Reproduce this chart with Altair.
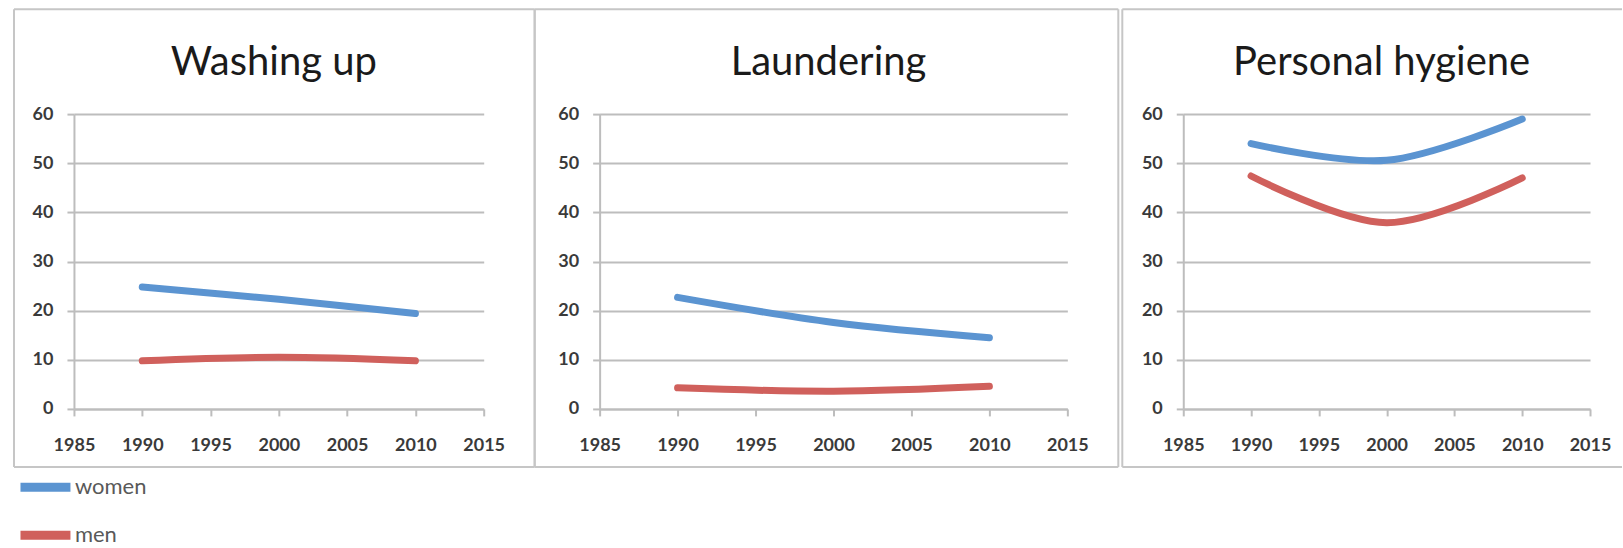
import altair as alt
import pandas as pd

# Minutes per day spent on household / personal care tasks, by sex
years = [1990, 2000, 2010]
series = ["women", "men"]

washing_women = [24.8, 22.3, 19.4]
washing_men = [9.8, 10.5, 9.8]
laundering_women = [22.7, 17.6, 14.5]
laundering_men = [4.3, 3.6, 4.6]
hygiene_women = [54.0, 50.6, 59.0]
hygiene_men = [47.4, 37.9, 47.0]

panels = ["Washing up", "Laundering", "Personal hygiene"]
x_ticks = [1985, 1990, 1995, 2000, 2005, 2010, 2015]
y_ticks = [0, 10, 20, 30, 40, 50, 60]

BLUE = "#5B94D1"
RED = "#D0605C"
GRID = "#bdbdbd"
FRAME = "#c6c6c6"

rows = []
for panel, women, men in [
    ("Washing up", washing_women, washing_men),
    ("Laundering", laundering_women, laundering_men),
    ("Personal hygiene", hygiene_women, hygiene_men),
]:
    for yr, w, m in zip(years, women, men):
        rows.append({"panel": panel, "year": yr, "sex": "women", "value": w})
        rows.append({"panel": panel, "year": yr, "sex": "men", "value": m})
df = pd.DataFrame(rows)

one_row = alt.Data(values=[{"k": 0}])


def frame(left, right, top, bottom, right_side=True):
    """Light border drawn around a panel (pixel offsets from the plot origin)."""
    base = alt.Chart(one_row).mark_rule(color=FRAME, strokeWidth=2)
    parts = [
        base.encode(x=alt.value(left), x2=alt.value(right), y=alt.value(top)),
        base.encode(x=alt.value(left), x2=alt.value(right), y=alt.value(bottom)),
        base.encode(x=alt.value(left), y=alt.value(top), y2=alt.value(bottom)),
    ]
    if right_side:
        parts.append(base.encode(x=alt.value(right), y=alt.value(top), y2=alt.value(bottom)))
    return parts


def panel_title(name, center):
    """Panel heading, set inside the panel border above the plot."""
    return (
        alt.Chart(one_row)
        .mark_text(
            font="Lato",
            fontSize=40,
            color="#1a1a1a",
            align="center",
            baseline="alphabetic",
        )
        .encode(x=alt.value(center), y=alt.value(-39), text=alt.value(name))
    )


def panel_chart(name, width, frame_layers, show_legend=False):
    if show_legend:
        legend = alt.Legend(
            title=None,
            orient="none",
            legendX=-58,
            legendY=344,
            symbolType="stroke",
            symbolSize=2500,
            symbolStrokeWidth=9,
            labelFontSize=22,
            labelFont="Lato",
            labelColor="#595959",
            labelOffset=0,
            rowPadding=-4,
        )
    else:
        legend = None

    lines = (
        alt.Chart(df)
        .transform_filter(alt.datum.panel == name)
        .mark_line(interpolate="catmull-rom", strokeWidth=7, strokeCap="round")
        .encode(
            x=alt.X(
                "year:Q",
                scale=alt.Scale(domain=[1985, 2015], nice=False, zero=False),
                axis=alt.Axis(
                    values=x_ticks,
                    format="d",
                    title=None,
                    grid=False,
                    labelPadding=21,
                    labelFlush=False,
                    labelOverlap=False,
                ),
            ),
            y=alt.Y(
                "value:Q",
                scale=alt.Scale(domain=[0, 60], nice=False),
                axis=alt.Axis(values=y_ticks, title=None, grid=True, labelPadding=14),
            ),
            color=alt.Color(
                "sex:N",
                sort=series,
                scale=alt.Scale(domain=series, range=[BLUE, RED]),
                legend=legend,
            ),
            detail="sex:N",
        )
    )
    return alt.layer(*frame_layers, panel_title(name, width / 2 - 5), lines).properties(
        width=width,
        height=295,
    )


p1 = panel_chart("Washing up", 410, frame(-60, 461, -105, 353), show_legend=True)
p2 = panel_chart("Laundering", 468, frame(-65, 519, -105, 353))
p3 = panel_chart("Personal hygiene", 407, frame(-61, 439, -105, 353, right_side=False))

chart = (
    alt.hconcat(p1, p2, p3, spacing=116, bounds="flush")
    .properties(padding={"left": 13, "top": 8, "right": 0, "bottom": 2}, background="white")
    .configure_view(stroke=None)
    .configure_axis(
        domainColor=GRID,
        domainWidth=2,
        tickColor=GRID,
        tickWidth=2,
        tickSize=7,
        gridColor=GRID,
        gridWidth=2,
        labelFont="Lato",
        labelFontSize=18,
        labelFontWeight="bold",
        labelColor="#3a3a3a",
    )
)

chart.save("out.html", embed_options={"renderer": "svg", "actions": False})
